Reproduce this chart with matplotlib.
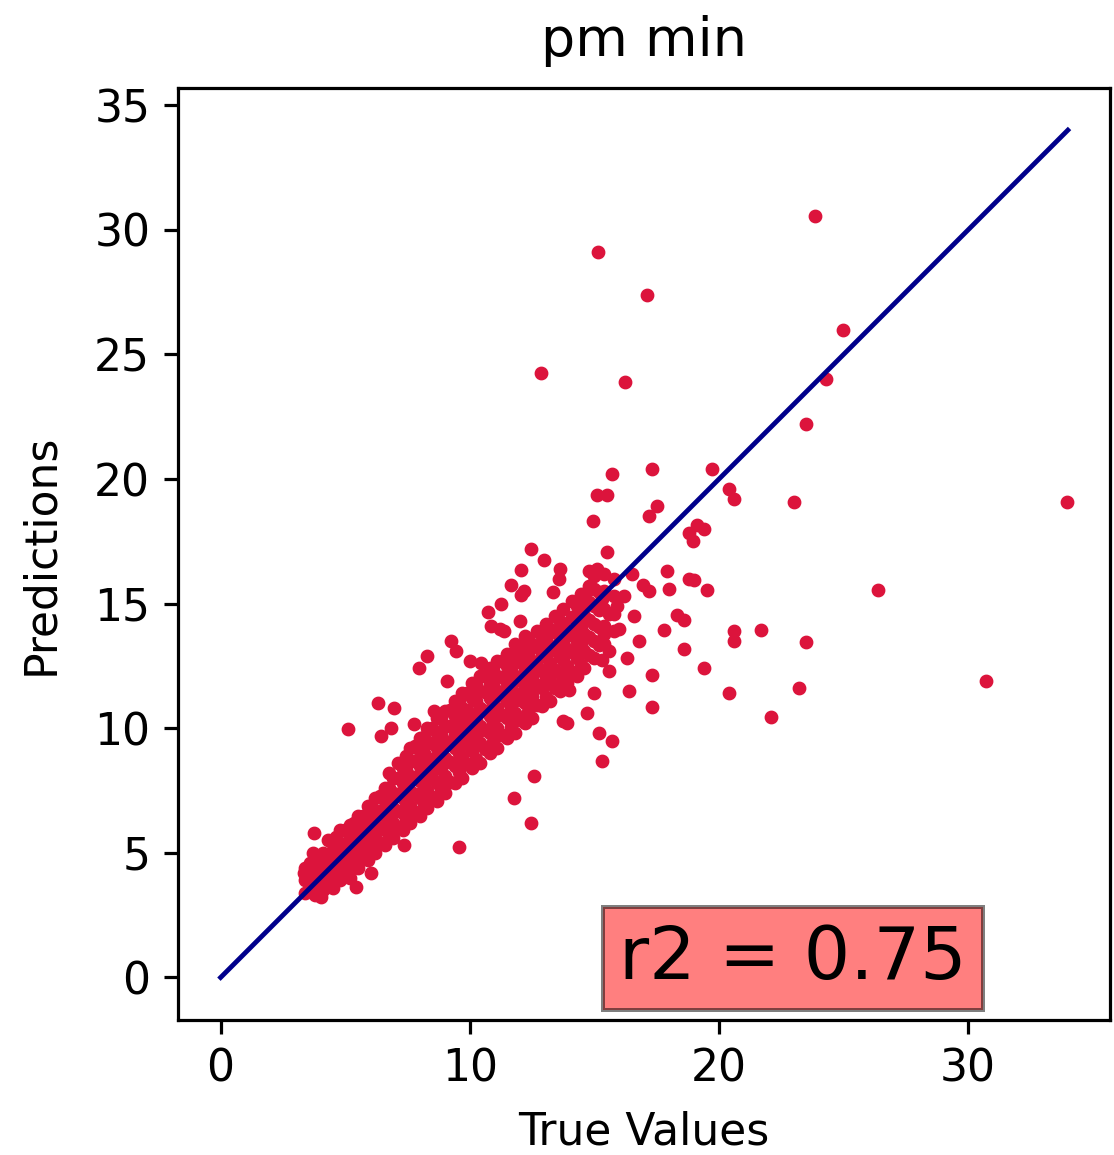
import numpy as np
import matplotlib
matplotlib.use('Agg')
from matplotlib import pyplot as plt


DPI = 288
FIG_SIZE = (1114 / DPI, 1155 / DPI)

# dense band along the diagonal, one column of predictions per true value
cloud_true = [3.4, 3.8, 4.1, 4.5, 4.8, 5.2, 5.5, 5.9, 6.2, 6.6, 6.9, 7.3, 7.6, 8.0, 8.3, 8.7, 9.0,
              9.4, 9.7, 10.1, 10.4, 10.8, 11.1, 11.5, 11.8, 12.2, 12.5, 12.9, 13.2, 13.6, 13.9,
              14.3, 14.6, 15.0, 15.4, 15.8]
cloud_pred = [
    [3.4, 3.9, 4.4],
    [3.3, 3.8, 4.3, 4.8],
    [3.5, 4.0, 4.5, 5.0],
    [3.6, 4.1, 4.6, 5.1, 5.5],
    [3.9, 4.4, 4.9, 5.4, 5.9],
    [4.0, 4.6, 5.1, 5.6, 6.1],
    [4.4, 4.9, 5.5, 6.0, 6.5],
    [4.7, 5.2, 5.8, 6.3, 6.9],
    [5.0, 5.6, 6.1, 6.7, 7.2],
    [5.3, 5.9, 6.5, 7.1, 7.6],
    [5.6, 6.2, 6.8, 7.4, 8.0],
    [5.9, 6.6, 7.2, 7.8, 8.4],
    [6.2, 6.9, 7.5, 8.1, 8.7, 9.2],
    [6.5, 7.2, 7.9, 8.5, 9.1, 9.6],
    [6.8, 7.5, 8.2, 8.8, 9.4, 10.0],
    [7.1, 7.8, 8.5, 9.2, 9.8, 10.4],
    [7.4, 8.1, 8.8, 9.5, 10.1, 10.7],
    [7.8, 8.5, 9.2, 9.8, 10.5, 11.1],
    [8.0, 8.8, 9.5, 10.2, 10.8, 11.4],
    [8.4, 9.1, 9.8, 10.5, 11.2, 11.8],
    [8.6, 9.4, 10.1, 10.8, 11.5, 12.1],
    [9.0, 9.8, 10.5, 11.2, 11.8, 12.4],
    [9.2, 10.0, 10.8, 11.5, 12.1, 12.7],
    [9.6, 10.4, 11.1, 11.8, 12.5, 13.0],
    [9.8, 10.6, 11.4, 12.1, 12.8, 13.4],
    [10.2, 11.0, 11.7, 12.4, 13.1, 13.7],
    [10.4, 11.3, 12.0, 12.7, 13.4],
    [10.9, 11.6, 12.3, 13.0, 13.7],
    [11.1, 11.9, 12.6, 13.3, 14.0],
    [11.5, 12.2, 12.9, 13.6, 14.3],
    [11.8, 12.5, 13.2, 13.9],
    [12.1, 12.8, 13.5, 14.2, 14.9],
    [12.4, 13.1, 13.8, 14.5, 15.2],
    [12.8, 13.5, 14.2, 14.9, 15.6],
    [13.4, 14.1, 14.8, 15.5, 16.2],
    [13.9, 14.6, 15.3, 16.0],
]

# second set of columns sitting between the first ones, rows staggered
fill_true = [3.6, 3.95, 4.3, 4.65, 5.0, 5.35, 5.7, 6.05, 6.4, 6.75, 7.1, 7.45, 7.8, 8.15, 8.5,
             8.85, 9.2, 9.55, 9.9, 10.25, 10.6, 10.95, 11.3, 11.65, 12.0, 12.35, 12.7, 13.05,
             13.4, 13.75, 14.1, 14.45, 14.8, 15.2]
fill_pred = [
    [3.6, 4.1, 4.6],
    [3.7, 4.3, 4.85],
    [3.85, 4.4, 4.95, 5.5],
    [4.05, 4.6, 5.15, 5.65],
    [4.2, 4.8, 5.35, 5.9],
    [4.5, 5.1, 5.65, 6.2],
    [4.8, 5.4, 6.0, 6.5],
    [5.1, 5.7, 6.3, 6.9],
    [5.4, 6.0, 6.7, 7.3],
    [5.7, 6.35, 7.0, 7.6, 8.2],
    [6.05, 6.7, 7.35, 8.0, 8.6],
    [6.35, 7.05, 7.7, 8.35, 8.9],
    [6.65, 7.35, 8.05, 8.7, 9.3],
    [6.95, 7.65, 8.35, 9.0, 9.65],
    [7.25, 8.0, 8.75, 9.4, 10.0],
    [7.55, 8.35, 9.05, 9.75, 10.4],
    [7.85, 8.65, 9.4, 10.1, 10.75],
    [8.25, 9.0, 9.75, 10.45, 11.1],
    [8.55, 9.35, 10.05, 10.75, 11.4],
    [8.75, 9.6, 10.4, 11.1, 11.75],
    [9.15, 9.95, 10.7, 11.45, 12.1],
    [9.45, 10.25, 11.0, 11.75, 12.4],
    [9.75, 10.55, 11.35, 12.05, 12.7],
    [10.05, 10.85, 11.6, 12.35, 13.0],
    [10.35, 11.15, 11.95, 12.65, 13.3],
    [10.65, 11.45, 12.25, 12.95, 13.6],
    [10.95, 11.75, 12.5, 13.25, 13.9],
    [11.25, 12.05, 12.85, 13.55, 14.2],
    [11.6, 12.35, 13.15, 13.85, 14.5],
    [11.95, 12.75, 13.45, 14.15, 14.8],
    [12.25, 13.05, 13.75, 14.45, 15.1],
    [12.55, 13.35, 14.05, 14.75, 15.4],
    [12.95, 13.65, 14.35, 15.05, 15.7],
    [13.35, 14.05, 14.75, 15.45],
]

# scattered points away from the band
spread_true = [15.16, 17.1, 23.84, 24.96, 12.84, 16.24, 24.3, 23.5, 33.96, 19.7, 17.3, 15.7, 15.1,
               15.5, 20.4, 20.6, 23.0, 17.5, 17.2, 14.96, 19.4, 26.4, 23.5, 20.6, 20.6, 21.7, 23.2,
               30.7, 22.1, 19.4, 20.4, 18.6, 17.3, 16.4, 19.0, 19.5, 18.3, 18.6, 17.8, 16.8, 15.6,
               15.3, 15.6, 16.3, 17.3, 15.0, 14.0, 14.7, 13.9, 15.2, 15.7, 15.3, 18.8, 19.1, 18.96,
               12.44, 12.96, 12.04, 11.64, 12.04, 11.24, 10.72, 13.64, 13.56, 13.32, 15.52, 15.1,
               14.8, 15.0, 18.8, 17.9, 18.0, 16.96, 17.2, 12.0, 11.2, 12.16, 10.84, 11.36, 9.24,
               9.44, 8.3, 7.96, 10.0, 10.44, 9.1, 6.96, 6.84, 7.76, 8.56, 5.12, 6.32, 6.44, 12.56,
               11.76, 12.44, 7.36, 9.56, 5.44, 3.76, 3.72, 3.36, 13.76, 6.04, 4.04, 15.3, 15.6,
               15.9, 16.2, 15.4, 16.0, 14.8, 16.5, 16.6]
spread_pred = [29.1, 27.4, 30.55, 26.0, 24.25, 23.9, 24.0, 22.2, 19.07, 20.4, 20.4, 20.2, 19.35,
               19.35, 19.6, 19.2, 19.07, 18.9, 18.5, 18.3, 18.0, 15.55, 13.45, 13.9, 13.5, 13.95,
               11.6, 11.9, 10.45, 12.4, 11.4, 13.2, 10.85, 11.5, 15.95, 15.55, 14.55, 14.35, 13.95,
               13.5, 13.1, 12.75, 12.3, 12.8, 12.15, 11.4, 11.55, 10.6, 10.2, 9.8, 9.5, 8.7, 17.85,
               18.15, 17.5, 17.2, 16.75, 16.35, 15.75, 15.35, 15.0, 14.68, 16.4, 16.0, 15.48, 17.07,
               16.4, 16.3, 16.1, 16.0, 16.3, 15.6, 15.75, 15.5, 14.3, 14.0, 15.5, 14.1, 13.9, 13.5,
               13.1, 12.9, 12.4, 12.7, 12.6, 11.9, 10.8, 10.0, 10.17, 10.7, 9.97, 11.0, 9.7, 8.1,
               7.22, 6.18, 5.3, 5.22, 3.63, 5.78, 5.0, 4.2, 10.3, 4.2, 3.23, 15.2, 14.6, 14.9, 15.3,
               13.8, 14.0, 15.6, 16.2, 14.5]

r2_value = 0.75
identity_ends = [0, 34]

x_ticks = [0, 10, 20, 30]
y_ticks = [0, 5, 10, 15, 20, 25, 30, 35]


def expand(columns, preds):
    """Repeat each column position once per prediction in it."""
    return np.repeat(columns, [len(p) for p in preds]), np.concatenate(preds)


def main():
    band_x, band_y = expand(cloud_true, cloud_pred)
    fill_x, fill_y = expand(fill_true, fill_pred)
    true_vals = np.concatenate([band_x, fill_x, spread_true])
    pred_vals = np.concatenate([band_y, fill_y, spread_pred])

    fig = plt.figure(figsize=FIG_SIZE, dpi=DPI)
    ax = fig.add_axes([0.160, 0.117, 0.8366, 0.807])

    ax.scatter(true_vals, pred_vals, s=6, c='crimson')
    ax.plot(identity_ends, identity_ends, color='darkblue', lw=1.2)

    ax.set_xticks(x_ticks)
    ax.set_yticks(y_ticks)
    ax.tick_params(labelsize=11)
    ax.set_title('pm min', fontsize=13.5, pad=8)
    ax.set_xlabel('True Values', fontsize=11, labelpad=5)
    ax.set_ylabel('Predictions', fontsize=11, labelpad=8)

    ax.text(16, -0.05, 'r2 = {:.2f}'.format(r2_value), fontsize=18.3,
            bbox=dict(facecolor='red', alpha=0.5))

    fig.savefig('out.png', dpi=DPI)


if __name__ == '__main__':
    main()
